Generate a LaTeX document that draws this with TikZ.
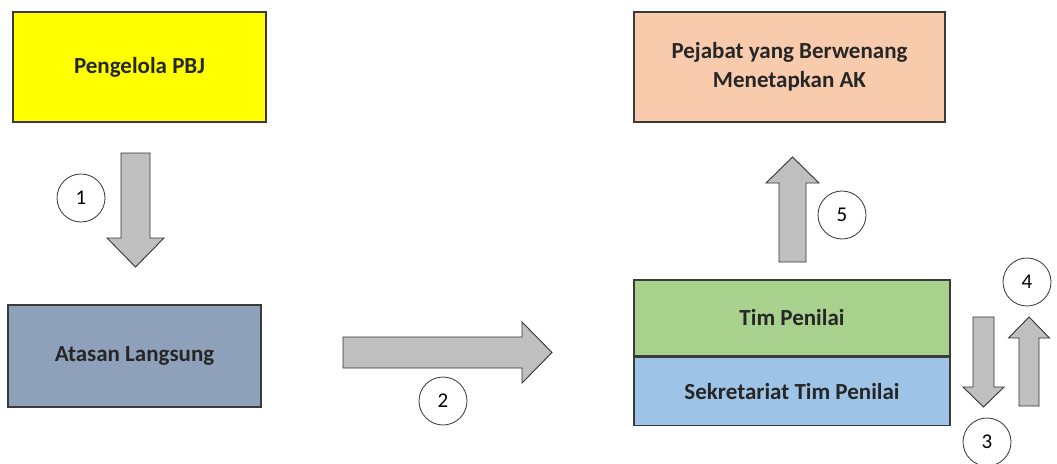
\documentclass[tikz,border=0pt]{standalone}
\usepackage{fontspec}
\setmainfont{Carlito}
\usetikzlibrary{positioning}
\definecolor{pbjyellow}{HTML}{FFFF00}
\definecolor{atasanblue}{HTML}{8EA0BA}
\definecolor{pejabatorange}{HTML}{F8CBAD}
\definecolor{timgreen}{HTML}{A9D18E}
\definecolor{sekblue}{HTML}{9DC3E6}
\definecolor{arrowgray}{HTML}{BFBFBF}
\definecolor{edgegray}{HTML}{3A3A3A}

\begin{document}
\begin{tikzpicture}[x=1pt,y=-1pt,
  box/.style={draw=edgegray,line width=1.2pt,inner sep=0pt,font=\fontsize{23}{29}\selectfont\bfseries,text=black!85,align=center},
  stepnum/.style={draw=black!80,circle,line width=0.8pt,minimum size=48pt,inner sep=0pt,font=\fontsize{21}{21}\selectfont},
  blockarrow/.style={draw=black!80,fill=arrowgray,line width=0.9pt,line join=miter}]
  \useasboundingbox (0,0) rectangle (1057,463);
  % boxes
  \node[box,fill=pbjyellow,minimum width=253pt,minimum height=110pt] (pbj) at (139.5,67) {Pengelola PBJ};
  \node[box,fill=atasanblue,minimum width=253pt,minimum height=102pt] (atasan) at (134.5,356) {Atasan Langsung};
  \node[box,fill=pejabatorange,minimum width=311pt,minimum height=110pt] (pejabat) at (789.5,67) {Pejabat yang Berwenang\\Menetapkan AK};
  \node[box,fill=timgreen,minimum width=316pt,minimum height=76pt] (tim) at (792,318) {Tim Penilai};
  \node[box,fill=sekblue,minimum width=316pt,minimum height=68pt,anchor=north] (sek) at (tim.south) {Sekretariat Tim Penilai};
  % vertical block arrows: centre x / tail / head base / tip / half shaft / half head
  \foreach \cx/\yt/\yb/\ye/\w/\h in {135.5/153/238/267/14.5/28.5, 792.5/262/183/157/13.5/26.5,
                                    983.5/317/387/407/10.5/20.5, 1029/406/338/317/10/20.5} {
    \draw[blockarrow] (\cx-\w,\yt) -- (\cx+\w,\yt) -- (\cx+\w,\yb) -- (\cx+\h,\yb) -- (\cx,\ye)
      -- (\cx-\h,\yb) -- (\cx-\w,\yb) -- cycle;
  }
  % horizontal block arrow
  \draw[blockarrow] (343,337) -- (522,337) -- (522,322) -- (552,352.5) -- (522,383) -- (522,368) -- (343,368) -- cycle;
  % step numbers
  \foreach \n/\x/\y in {1/81/198, 2/443/401, 3/987/442, 4/1027/282, 5/842/215}
    \node[stepnum] (num\n) at (\x,\y) {\n};
\end{tikzpicture}
\end{document}
